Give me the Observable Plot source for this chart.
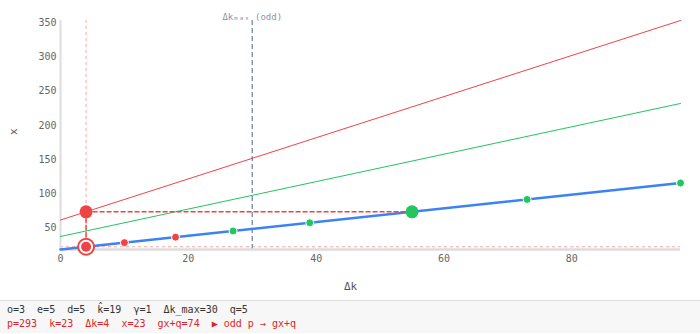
<!DOCTYPE html>
<html>
<head>
<meta charset="utf-8">
<script src="https://cdn.jsdelivr.net/npm/d3@7"></script>
<script src="https://cdn.jsdelivr.net/npm/@observablehq/plot@0.6"></script>
<style>
  html, body { margin: 0; padding: 0; background: #fff; }
  #chart svg { display: block; }
  #info {
    height: 33px; border-top: 1px solid #ddd; background: #f7f7f7;
    font-family: "DejaVu Sans Mono", monospace; font-size: 10px;
    padding-left: 7px; box-sizing: border-box; white-space: pre; line-height: 14px;
    padding-top: 2px;
  }
  #info .l1 { color: #333; }
  #info .l2 { color: #e02424; }
</style>
</head>
<body>
<div id="chart"></div>
<div id="info"></div>
<script>
// ---- data ----
const dkDomain = [0, 97];
const xTicks = [0, 20, 40, 60, 80];
const yTicks = [50, 100, 150, 200, 250, 300, 350];

// straight lines: endpoints [Δk, value]
const blueLine = [[0, 19], [97, 116]];    // x
const redLine = [[0, 62], [97, 353]];     // gx+q
const greenLine = [[0, 38], [97, 232]];   // 2x

// marked points on the blue line
const redDots = [[10, 29], [18, 37]];
const greenDots = [[27, 46], [39, 58], [73, 92], [97, 116]];
const bigGreen = [[55, 74]];
const bigRed = [[4, 74]];
const selected = [[4, 23]];

const dkMax = 30;
const selDk = 4;
const selX = 23;
const guideH = [[4, 74], [55, 74]];
const guideV = [[4, 74], [4, 23]];

const infoLine1 = "o=3  e=5  d=5  k\u0302=19  \u03b3=1  \u0394k_max=30  q=5";
const infoLine2 = "p=293  k=23  \u0394k=4  x=23  gx+q=74  \u25b6 odd p \u2192 gx+q";

const RED = "#ef4444", GREEN = "#22c55e", BLUE = "#3b82f6";
const allY = [...blueLine, ...redLine, ...greenLine].map(d => d[1]);

const chart = Plot.plot({
  width: 700, height: 300,
  marginLeft: 60, marginRight: 20, marginTop: 20, marginBottom: 51,
  style: { fontFamily: "'DejaVu Sans Mono', monospace", fontSize: "10px", color: "#666", background: "#fff" },
  x: { domain: dkDomain },
  y: { domain: d3.extent(allY) },
  marks: [
    Plot.ruleX([selDk], { stroke: "#fca5a5", strokeDasharray: "3,3", strokeWidth: 1 }),
    Plot.ruleY([selX], { stroke: "#fca5a5", strokeDasharray: "3,3", strokeWidth: 1 }),
    Plot.ruleX([dkMax], { stroke: "#8896ab", strokeDasharray: "5,3", strokeWidth: 1.5 }),
    Plot.ruleX([dkDomain[0]], { stroke: "#dcdcdc", strokeWidth: 2 }),
    Plot.ruleY([d3.min(allY)], { stroke: "#dcdcdc", strokeWidth: 2.5 }),
    Plot.axisX({ ticks: xTicks, tickSize: 0, tickPadding: 5, label: null }),
    Plot.axisY({ ticks: yTicks, tickSize: 0, tickPadding: 4, label: null }),
    Plot.text(["\u0394k"], { frameAnchor: "bottom", dx: -20, dy: 40, fill: "#555", fontSize: 11 }),
    Plot.text(["x"], { frameAnchor: "left", dx: -47, rotate: -90, fill: "#555", fontSize: 11 }),
    Plot.text(["\u0394k\u2098\u2090\u2093 (odd)"], { x: [dkMax], frameAnchor: "top", dy: -7, fill: "#8896ab", fontSize: 9 }),
    Plot.line(redLine, { x: d => d[0], y: d => d[1], stroke: RED, strokeWidth: 1 }),
    Plot.line(greenLine, { x: d => d[0], y: d => d[1], stroke: GREEN, strokeWidth: 1 }),
    Plot.line(blueLine, { x: d => d[0], y: d => d[1], stroke: BLUE, strokeWidth: 2.5 }),
    Plot.line(guideH, { x: d => d[0], y: d => d[1], stroke: RED, strokeWidth: 1.5, strokeDasharray: "4,3" }),
    Plot.line(guideV, { x: d => d[0], y: d => d[1], stroke: RED, strokeWidth: 1.5, strokeDasharray: "4,3" }),
    Plot.dot(redDots, { x: d => d[0], y: d => d[1], r: 4, fill: RED, stroke: "#fff", strokeWidth: 1 }),
    Plot.dot(greenDots, { x: d => d[0], y: d => d[1], r: 4, fill: GREEN, stroke: "#fff", strokeWidth: 1 }),
    Plot.dot(bigGreen, { x: d => d[0], y: d => d[1], r: 6.5, fill: GREEN }),
    Plot.dot(bigRed, { x: d => d[0], y: d => d[1], r: 6.5, fill: RED }),
    Plot.dot(selected, { x: d => d[0], y: d => d[1], r: 8, fill: "#fff", stroke: RED, strokeWidth: 2 }),
    Plot.dot(selected, { x: d => d[0], y: d => d[1], r: 5, fill: RED })
  ]
});
document.getElementById("chart").appendChild(chart);
const info = document.getElementById("info");
const l1 = document.createElement("div"); l1.className = "l1"; l1.textContent = infoLine1;
const l2 = document.createElement("div"); l2.className = "l2"; l2.textContent = infoLine2;
info.appendChild(l1); info.appendChild(l2);
</script>
</body>
</html>
